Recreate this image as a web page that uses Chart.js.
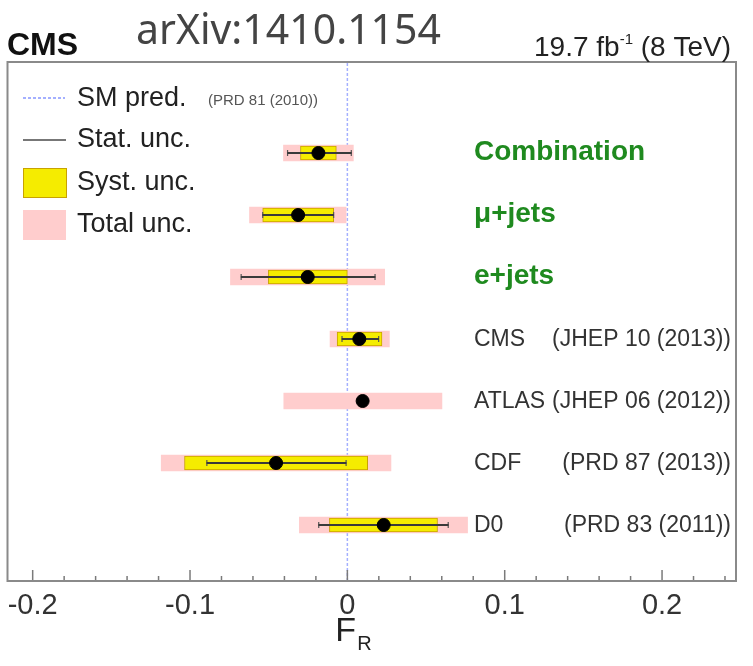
<!DOCTYPE html>
<html>
<head>
<meta charset="utf-8">
<script src="https://cdn.jsdelivr.net/npm/chart.js@4.4.1/dist/chart.umd.min.js"></script>
<style>
  html, body { margin: 0; padding: 0; background: #fff; }
  #wrap { width: 753px; height: 666px; position: relative; }
</style>
</head>
<body>
<div id="wrap"><canvas id="grafico"></canvas></div>
<script>
// measurements, top to bottom
const categorias = ['Combination', 'μ+jets', 'e+jets', 'CMS', 'ATLAS', 'CDF', 'D0'];
const referencias = ['', '', '', '(JHEP 10 (2013))', '(JHEP 06 (2012))', '(PRD 87 (2013))', '(PRD 83 (2011))'];
const valorCentral = [-0.0184, -0.0313, -0.0252, 0.0076, 0.0097, -0.0453, 0.0231];
const statBaixo = [-0.038, -0.0538, -0.0675, -0.0034, null, -0.0893, -0.0182];
const statAlto = [0.0025, -0.0087, 0.0176, 0.0199, null, -0.0008, 0.0641];
const systBaixo = [-0.0298, -0.0538, -0.0502, -0.0065, null, -0.1035, -0.0114];
const systAlto = [-0.0070, -0.0087, 0.0, 0.022, null, 0.0129, 0.0573];
const totalBaixo = [-0.0406, -0.0622, -0.0743, -0.011, -0.0404, -0.1183, -0.0305];
const totalAlto = [0.0038, -0.0008, 0.0237, 0.0267, 0.0601, 0.0277, 0.0764];
const previsaoSM = [0];
const xTicks = [-0.2, -0.1, 0, 0.1, 0.2];

// row position (top row gets the largest y)
const posicao = categorias.map((c, i) => categorias.length - i);
const yMin = 0.097, yMax = 8.468;

const barras = (baixo, alto) => categorias
  .map((c, i) => (baixo[i] === null ? null : { y: posicao[i], x: [baixo[i], alto[i]] }))
  .filter(d => d !== null);

// little end caps on the stat. error lines
const pontasStat = [];
categorias.forEach((c, i) => {
  if (statBaixo[i] === null) return;
  pontasStat.push({ x: statBaixo[i], y: posicao[i] });
  pontasStat.push({ x: statAlto[i], y: posicao[i] });
});

const FONTE = '"Liberation Sans", Arial, Helvetica, sans-serif';

const moldura = {
  id: 'moldura',
  afterDatasetsDraw(chart) {
    const { ctx, chartArea: a, scales } = chart;
    const x = scales.x, y = scales.y;
    ctx.save();

    // ticks on the bottom axis (pointing in)
    ctx.strokeStyle = '#7a7a7a';
    ctx.lineWidth = 1.5;
    for (let k = -10; k <= 12; k++) {
      const v = k * 0.02;
      const px = x.getPixelForValue(v);
      if (px < a.left + 1 || px > a.right - 1) continue;
      const len = (k % 5 === 0) ? 11 : 5;
      ctx.beginPath();
      ctx.moveTo(px, a.bottom);
      ctx.lineTo(px, a.bottom - len);
      ctx.stroke();
    }

    // frame
    ctx.strokeStyle = '#8a8a8a';
    ctx.lineWidth = 2;
    ctx.strokeRect(a.left, a.top, a.right - a.left, a.bottom - a.top);

    // right-hand labels
    ctx.textBaseline = 'middle';
    ctx.textAlign = 'left';
    categorias.forEach((c, i) => {
      const py = y.getPixelForValue(posicao[i]);
      if (i < 3) {
        ctx.fillStyle = '#1f8a1f';
        ctx.font = 'bold 28px ' + FONTE;
        ctx.fillText(c, 474, py - 1);
      } else {
        ctx.fillStyle = '#333';
        ctx.font = '23px ' + FONTE;
        ctx.fillText(c, 474, py + 1);
        ctx.textAlign = 'right';
        ctx.fillText(referencias[i], 731, py + 1);
        ctx.textAlign = 'left';
      }
    });

    // legend
    ctx.fillStyle = '#222';
    ctx.font = '27px ' + FONTE;
    ctx.strokeStyle = '#a4b0ff';
    ctx.lineWidth = 2;
    ctx.setLineDash([3, 2]);
    ctx.beginPath(); ctx.moveTo(23, 98); ctx.lineTo(65, 98); ctx.stroke();
    ctx.setLineDash([]);
    ctx.fillText('SM pred.', 77, 99);
    ctx.font = '15px ' + FONTE;
    ctx.fillStyle = '#555';
    ctx.fillText('(PRD 81 (2010))', 208, 101);

    ctx.fillStyle = '#222';
    ctx.font = '27px ' + FONTE;
    ctx.strokeStyle = '#777';
    ctx.beginPath(); ctx.moveTo(23, 140); ctx.lineTo(66, 140); ctx.stroke();
    ctx.fillText('Stat. unc.', 77, 140);

    ctx.fillStyle = '#f5ec00';
    ctx.fillRect(23, 168, 43, 29);
    ctx.strokeStyle = '#c8a200';
    ctx.lineWidth = 1;
    ctx.strokeRect(23.5, 168.5, 43, 29);
    ctx.fillStyle = '#222';
    ctx.fillText('Syst. unc.', 77, 183);

    ctx.fillStyle = '#ffcdcd';
    ctx.fillRect(23, 210, 43, 30);
    ctx.fillStyle = '#222';
    ctx.fillText('Total unc.', 77, 225);

    // header
    ctx.textBaseline = 'alphabetic';
    ctx.fillStyle = '#111';
    ctx.font = 'bold 32px ' + FONTE;
    ctx.fillText('CMS', 7, 55);

    ctx.fillStyle = '#444';
    ctx.font = '41px "Noto Sans", Roboto, sans-serif';
    ctx.fillText('arXiv:1410.1154', 136, 44);

    ctx.fillStyle = '#222';
    ctx.font = '28px ' + FONTE;
    ctx.textAlign = 'right';
    const parte2 = ' (8 TeV)';
    const w2 = ctx.measureText(parte2).width;
    ctx.fillText(parte2, 731, 56);
    ctx.font = '15px ' + FONTE;
    const wSup = ctx.measureText('-1').width;
    ctx.fillText('-1', 731 - w2, 44);
    ctx.font = '28px ' + FONTE;
    ctx.fillText('19.7 fb', 731 - w2 - wSup, 56);

    // axis title F_R
    ctx.textAlign = 'left';
    ctx.font = '34px ' + FONTE;
    const xf = x.getPixelForValue(0) - 12;
    ctx.fillText('F', xf, 641);
    const wf = ctx.measureText('F').width;
    ctx.font = '20px ' + FONTE;
    ctx.fillText('R', xf + wf + 1, 650);

    ctx.restore();
  }
};

new Chart(document.getElementById('grafico'), {
  type: 'bar',
  data: {
    datasets: [
      {
        type: 'line',
        label: 'SM pred.',
        data: [{ x: previsaoSM[0], y: yMin }, { x: previsaoSM[0], y: yMax }],
        borderColor: '#a4b0ff',
        borderWidth: 1.5,
        borderDash: [3, 2],
        pointRadius: 0,
        order: 5
      },
      {
        label: 'Total unc.',
        indexAxis: 'y',
        data: barras(totalBaixo, totalAlto),
        backgroundColor: '#ffcdcd',
        borderWidth: 0,
        barThickness: 16,
        grouped: false,
        order: 4
      },
      {
        label: 'Syst. unc.',
        indexAxis: 'y',
        data: barras(systBaixo, systAlto),
        backgroundColor: '#f5ec00',
        borderColor: '#c8a200',
        borderWidth: 1,
        borderSkipped: false,
        barThickness: 14,
        grouped: false,
        order: 3
      },
      {
        label: 'Stat. unc.',
        indexAxis: 'y',
        data: barras(statBaixo, statAlto),
        backgroundColor: '#3a3a3a',
        borderWidth: 0,
        barThickness: 1.5,
        grouped: false,
        order: 2
      },
      {
        type: 'scatter',
        label: 'stat ends',
        data: pontasStat,
        pointStyle: 'line',
        rotation: 90,
        pointRadius: 3,
        borderColor: '#555',
        borderWidth: 1.2,
        order: 2
      },
      {
        type: 'scatter',
        label: 'F_R',
        data: categorias.map((c, i) => ({ x: valorCentral[i], y: posicao[i] })),
        backgroundColor: '#000',
        borderColor: '#000',
        pointRadius: 6.5,
        order: 1
      }
    ]
  },
  options: {
    responsive: true,
    maintainAspectRatio: false,
    animation: false,
    layout: { padding: { top: 62, left: 7, right: 17, bottom: 0 } },
    plugins: {
      legend: { display: false },
      tooltip: { enabled: false }
    },
    scales: {
      x: {
        type: 'linear',
        offset: false,
        min: -0.216,
        max: 0.247,
        grid: { display: false, offset: false },
        border: { display: false },
        ticks: {
          font: { family: FONTE, size: 29 },
          color: '#333',
          padding: 0,
          autoSkip: false,
          maxRotation: 0,
          callback: v => String(Math.round(v * 10) / 10)
        },
        afterBuildTicks: scale => { scale.ticks = xTicks.map(v => ({ value: v })); },
        afterFit: scale => { scale.height = 85; }
      },
      y: {
        type: 'linear',
        offset: false,
        min: yMin,
        max: yMax,
        display: false
      }
    }
  },
  plugins: [moldura]
});
</script>
</body>
</html>
